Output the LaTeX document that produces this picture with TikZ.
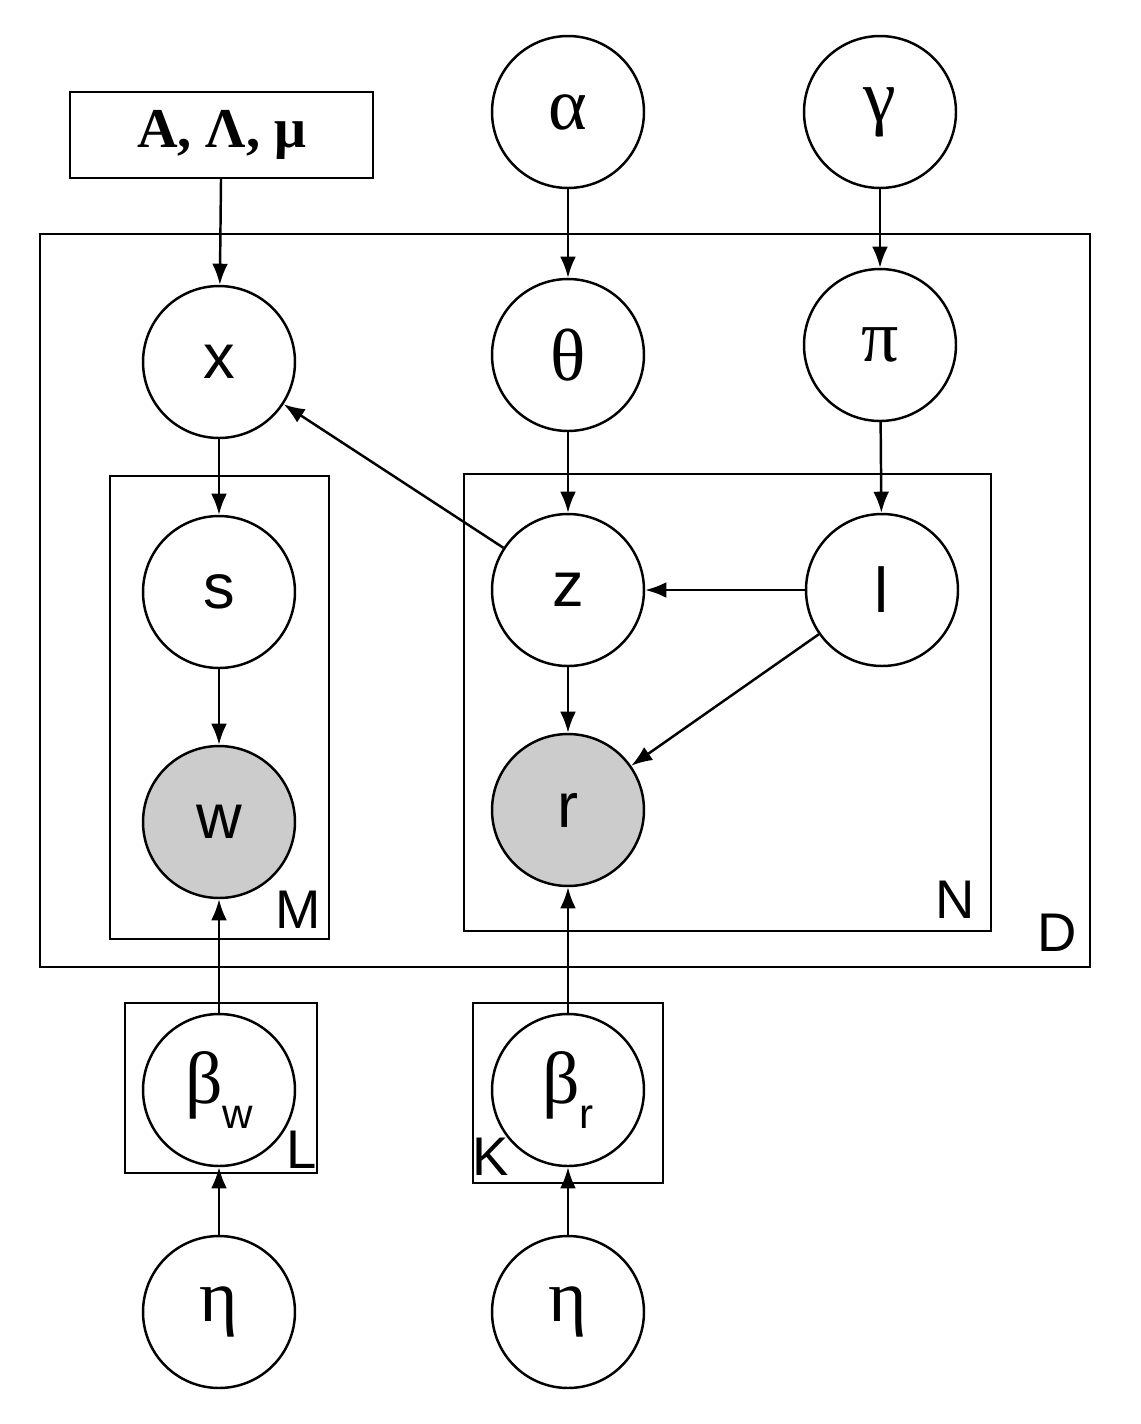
\documentclass[tikz,border=0pt]{standalone}
\usepackage{fontspec}
\setmainfont{Liberation Sans}
\newfontfamily\gr{Liberation Serif}
\usetikzlibrary{arrows.meta}
\begin{document}
\begin{tikzpicture}[x=0.02cm,y=-0.02cm,
  var/.style={circle,draw,line width=1.4pt,minimum size=3.04cm,inner sep=0pt,font=\fontsize{36}{36}\selectfont},
  obs/.style={var,fill=black!20},
  plate/.style={draw,line width=1.4pt},
  lab/.style={font=\fontsize{31}{31}\selectfont},
  edge/.style={-{Latex[length=12pt,width=9pt]},line width=1.4pt}]
\useasboundingbox (0,0) rectangle (1141,1424);
\draw[plate] (40,234) rectangle (1090,967);
\draw[plate] (110,476) rectangle (329,939);
\draw[plate] (464,474) rectangle (991,931);
\draw[plate] (125,1003) rectangle (317,1173);
\draw[plate] (473,1003) rectangle (663,1183);
\node[lab] (D) at (1057,933) {D};
\node[lab] (M) at (298,910) {M};
\node[lab] (N) at (955,900) {N};
\node[lab] (L) at (302,1150) {L};
\node[lab] (K) at (491,1157) {K};
\node[draw,line width=1.4pt,minimum width=6.06cm,minimum height=1.72cm,font=\gr\bfseries\fontsize{32}{32}\selectfont] (A) at (221.5,135) {A, Λ, μ};
\node[var,font=\gr\fontsize{42}{42}\selectfont] (alpha) at (568,112) {α};
\node[var,font=\gr\fontsize{42}{42}\selectfont] (gamma) at (880,112) {γ};
\node[var] (x) at (219,362) {x};
\node[var,font=\gr\fontsize{42}{42}\selectfont] (theta) at (568,355) {θ};
\node[var,font=\gr\fontsize{42}{42}\selectfont] (pi) at (880,345) {π};
\node[var] (s) at (219,592) {s};
\node[var] (z) at (568,590) {z};
\node[var] (l) at (882,590) {l};
\node[obs] (w) at (219,822) {w};
\node[obs] (r) at (568,810) {r};
\node[var,font=\gr\fontsize{42}{42}\selectfont] (bw) at (219,1090) {β\raisebox{-0.35em}{\fontspec{Liberation Sans}\fontsize{24}{24}\selectfont w}};
\node[var,font=\gr\fontsize{42}{42}\selectfont] (br) at (568,1090) {β\raisebox{-0.35em}{\fontspec{Liberation Sans}\fontsize{24}{24}\selectfont r}};
\node[var,font=\gr\fontsize{42}{42}\selectfont] (e1) at (219,1312) {η};
\node[var,font=\gr\fontsize{42}{42}\selectfont] (e2) at (568,1312) {η};
\draw[edge] (A) -- (x);
\draw[edge] (alpha) -- (theta);
\draw[edge] (gamma) -- (pi);
\draw[edge] (x) -- (s);
\draw[edge] (theta) -- (z);
\draw[edge] (pi) -- (l);
\draw[edge] (l) -- (z);
\draw[edge] (z) -- (x);
\draw[edge] (s) -- (w);
\draw[edge] (z) -- (r);
\draw[edge] (l) -- (r);
\draw[edge] (bw) -- (w);
\draw[edge] (br) -- (r);
\draw[edge] (e1) -- (bw);
\draw[edge] (e2) -- (br);
\end{tikzpicture}
\end{document}
